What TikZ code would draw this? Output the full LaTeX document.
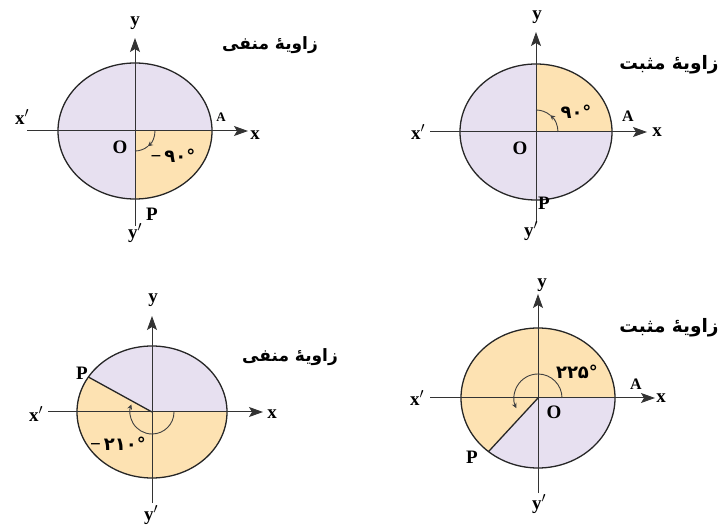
\documentclass[tikz,border=0pt]{standalone}
\usepackage{fontspec}
\setmainfont{Liberation Serif}
\newfontfamily\arabicfont[Script=Arabic]{DejaVu Sans}
\TeXXeTstate=1
\usetikzlibrary{arrows.meta}
\definecolor{sectorlilac}{HTML}{E7E0F0}
\definecolor{sectorpeach}{HTML}{FDE2B2}

\tikzset{
  axis/.style={draw=black!80, line width=1pt, -{Stealth[length=14pt,width=10pt,inset=3pt]}},
  rim/.style={draw=black!85, line width=1.3pt},
  turn/.style={draw=black!75, line width=0.9pt},
  turntip/.style={turn, -{Stealth[length=5pt,width=5pt]}},
  lbl/.style={font=\fontsize{19}{19}\selectfont\bfseries, inner sep=0pt},
  lblsmall/.style={font=\fontsize{13}{13}\selectfont\bfseries, inner sep=0pt},
  angtxt/.style={font=\fontsize{18}{18}\selectfont\arabicfont\bfseries, inner sep=0pt},
  ttl/.style={font=\fontsize{17}{17}\selectfont\arabicfont\bfseries, inner sep=0pt},
  ttlwide/.style={font=\fontsize{18.5}{18.5}\selectfont\arabicfont\bfseries, inner sep=0pt}
}
\newcommand{\negsign}{{\fontsize{19}{19}\selectfont\normalfont\bfseries −}}

\begin{document}
\begin{tikzpicture}[x=1pt, y=1pt]
  \useasboundingbox (0,0) rectangle (722,527);

  % negative quarter turn
  \begin{scope}[shift={(135,396)}]
    \coordinate (c1) at (0,0);
    \fill[sectorlilac] (c1) ellipse[x radius=77pt, y radius=68pt];
    \fill[sectorpeach] (c1) -- (0:77 and 68) arc[start angle=0, end angle=-90, x radius=77pt, y radius=68pt] -- cycle;
    \draw[rim] (c1) ellipse[x radius=77pt, y radius=68pt];
    \coordinate (l1) at (-108,0); \coordinate (r1) at (113,0);
    \coordinate (b1) at (0,-95);  \coordinate (t1) at (0,93);
    \draw[axis] (l1) -- (r1);
    \draw[axis] (b1) -- (t1);
    \draw[turntip] (20,0) arc[start angle=0, end angle=-50, radius=20pt];
    \draw[turn] (-50:20) arc[start angle=-50, end angle=-90, radius=20pt];
    \node[lbl] (y1) at (0,108) {y};
    \node[lbl] (yp1) at (0,-102) {y$'$};
    \node[lbl] (x1) at (120,-4) {x};
    \node[lbl] (xp1) at (-113,14) {x$'$};
    \node[lblsmall] (a1) at (86,14) {A};
    \node[lbl] (o1) at (-15,-16) {O};
    \node[lbl] (p1) at (17,-83) {P};
    \node[angtxt] (ang1) at (38,-25) {\negsign\,۹۰°};
    \node[ttl] (tt1) at (135,86) {\beginR زاویهٔ منفی\endR};
  \end{scope}

  % positive quarter turn
  \begin{scope}[shift={(536,395)}]
    \coordinate (c2) at (0,0);
    \fill[sectorlilac] (c2) ellipse[x radius=76pt, y radius=68pt];
    \fill[sectorpeach] (c2) -- (0:76 and 68) arc[start angle=0, end angle=90, x radius=76pt, y radius=68pt] -- cycle;
    \draw[rim] (c2) ellipse[x radius=76pt, y radius=68pt];
    \coordinate (l2) at (-106,0); \coordinate (r2) at (111,0);
    \coordinate (b2) at (0,-90);  \coordinate (t2) at (0,100);
    \draw[axis] (l2) -- (r2);
    \draw[axis] (b2) -- (t2);
    \draw[turntip] (22,0) arc[start angle=0, end angle=50, radius=22pt];
    \draw[turn] (50:22) arc[start angle=50, end angle=90, radius=22pt];
    \node[lbl] (y2) at (1,115) {y};
    \node[lbl] (yp2) at (-5,-99) {y$'$};
    \node[lbl] (x2) at (121,0) {x};
    \node[lbl] (xp2) at (-118,0) {x$'$};
    \node[font=\fontsize{16}{16}\selectfont\bfseries, inner sep=0pt] (a2) at (92,16) {A};
    \node[lbl] (o2) at (-16,-16) {O};
    \node[lbl] (p2) at (8,-71) {P};
    \node[angtxt] (ang2) at (40,20) {۹۰°};
    \node[ttlwide] (tt2) at (133,67) {\beginR زاویهٔ مثبت\endR};
  \end{scope}

  % negative turn past the half
  \begin{scope}[shift={(152,115)}]
    \coordinate (c3) at (0,0);
    \coordinate (q3) at (148:75 and 66);
    \fill[sectorlilac] (c3) ellipse[x radius=75pt, y radius=66pt];
    \fill[sectorpeach] (c3) -- (q3) arc[start angle=148, end angle=360, x radius=75pt, y radius=66pt] -- cycle;
    \draw[rim] (c3) ellipse[x radius=75pt, y radius=66pt];
    \draw[rim] (c3) -- (q3);
    \coordinate (l3) at (-104,0); \coordinate (r3) at (111,0);
    \coordinate (b3) at (0,-91);  \coordinate (t3) at (0,96);
    \draw[axis] (l3) -- (r3);
    \draw[axis] (b3) -- (t3);
    \draw[turntip] (22,0) arc[start angle=0, end angle=-200, radius=22pt];
    \node[lbl] (y3) at (1,112) {y};
    \node[lbl] (yp3) at (-1,-103) {y$'$};
    \node[lbl] (x3) at (120,-2) {x};
    \node[lbl] (xp3) at (-116,-2) {x$'$};
    \node[lbl] (p3) at (-70,39) {P};
    \node[angtxt] (ang3) at (-34,-32) {\negsign\,۲۱۰°};
    \node[ttl] (tt3) at (138,55) {\beginR زاویهٔ منفی\endR};
  \end{scope}

  % positive turn past the half
  \begin{scope}[shift={(538,129)}]
    \coordinate (c4) at (0,0);
    \coordinate (q4) at (230:77 and 70);
    \fill[sectorlilac] (c4) ellipse[x radius=77pt, y radius=70pt];
    \fill[sectorpeach] (c4) -- (0:77 and 70) arc[start angle=0, end angle=230, x radius=77pt, y radius=70pt] -- cycle;
    \draw[rim] (c4) ellipse[x radius=77pt, y radius=70pt];
    \draw[rim] (c4) -- (q4);
    \coordinate (l4) at (-108,0); \coordinate (r4) at (117,0);
    \coordinate (b4) at (0,-95);  \coordinate (t4) at (0,104);
    \draw[axis] (l4) -- (r4);
    \draw[axis] (b4) -- (t4);
    \draw[turntip] (24,0) arc[start angle=0, end angle=205, radius=24pt];
    \node[lbl] (y4) at (4,113) {y};
    \node[lbl] (yp4) at (1,-106) {y$'$};
    \node[lbl] (x4) at (123,0) {x};
    \node[lbl] (xp4) at (-121,0) {x$'$};
    \node[font=\fontsize{16}{16}\selectfont\bfseries, inner sep=0pt] (a4) at (98,14) {A};
    \node[lbl] (o4) at (16,-14) {O};
    \node[lbl] (p4) at (-66,-59) {P};
    \node[angtxt] (ang4) at (39,26) {۲۲۵°};
    \node[ttlwide] (tt4) at (131,70) {\beginR زاویهٔ مثبت\endR};
  \end{scope}
\end{tikzpicture}
\end{document}
